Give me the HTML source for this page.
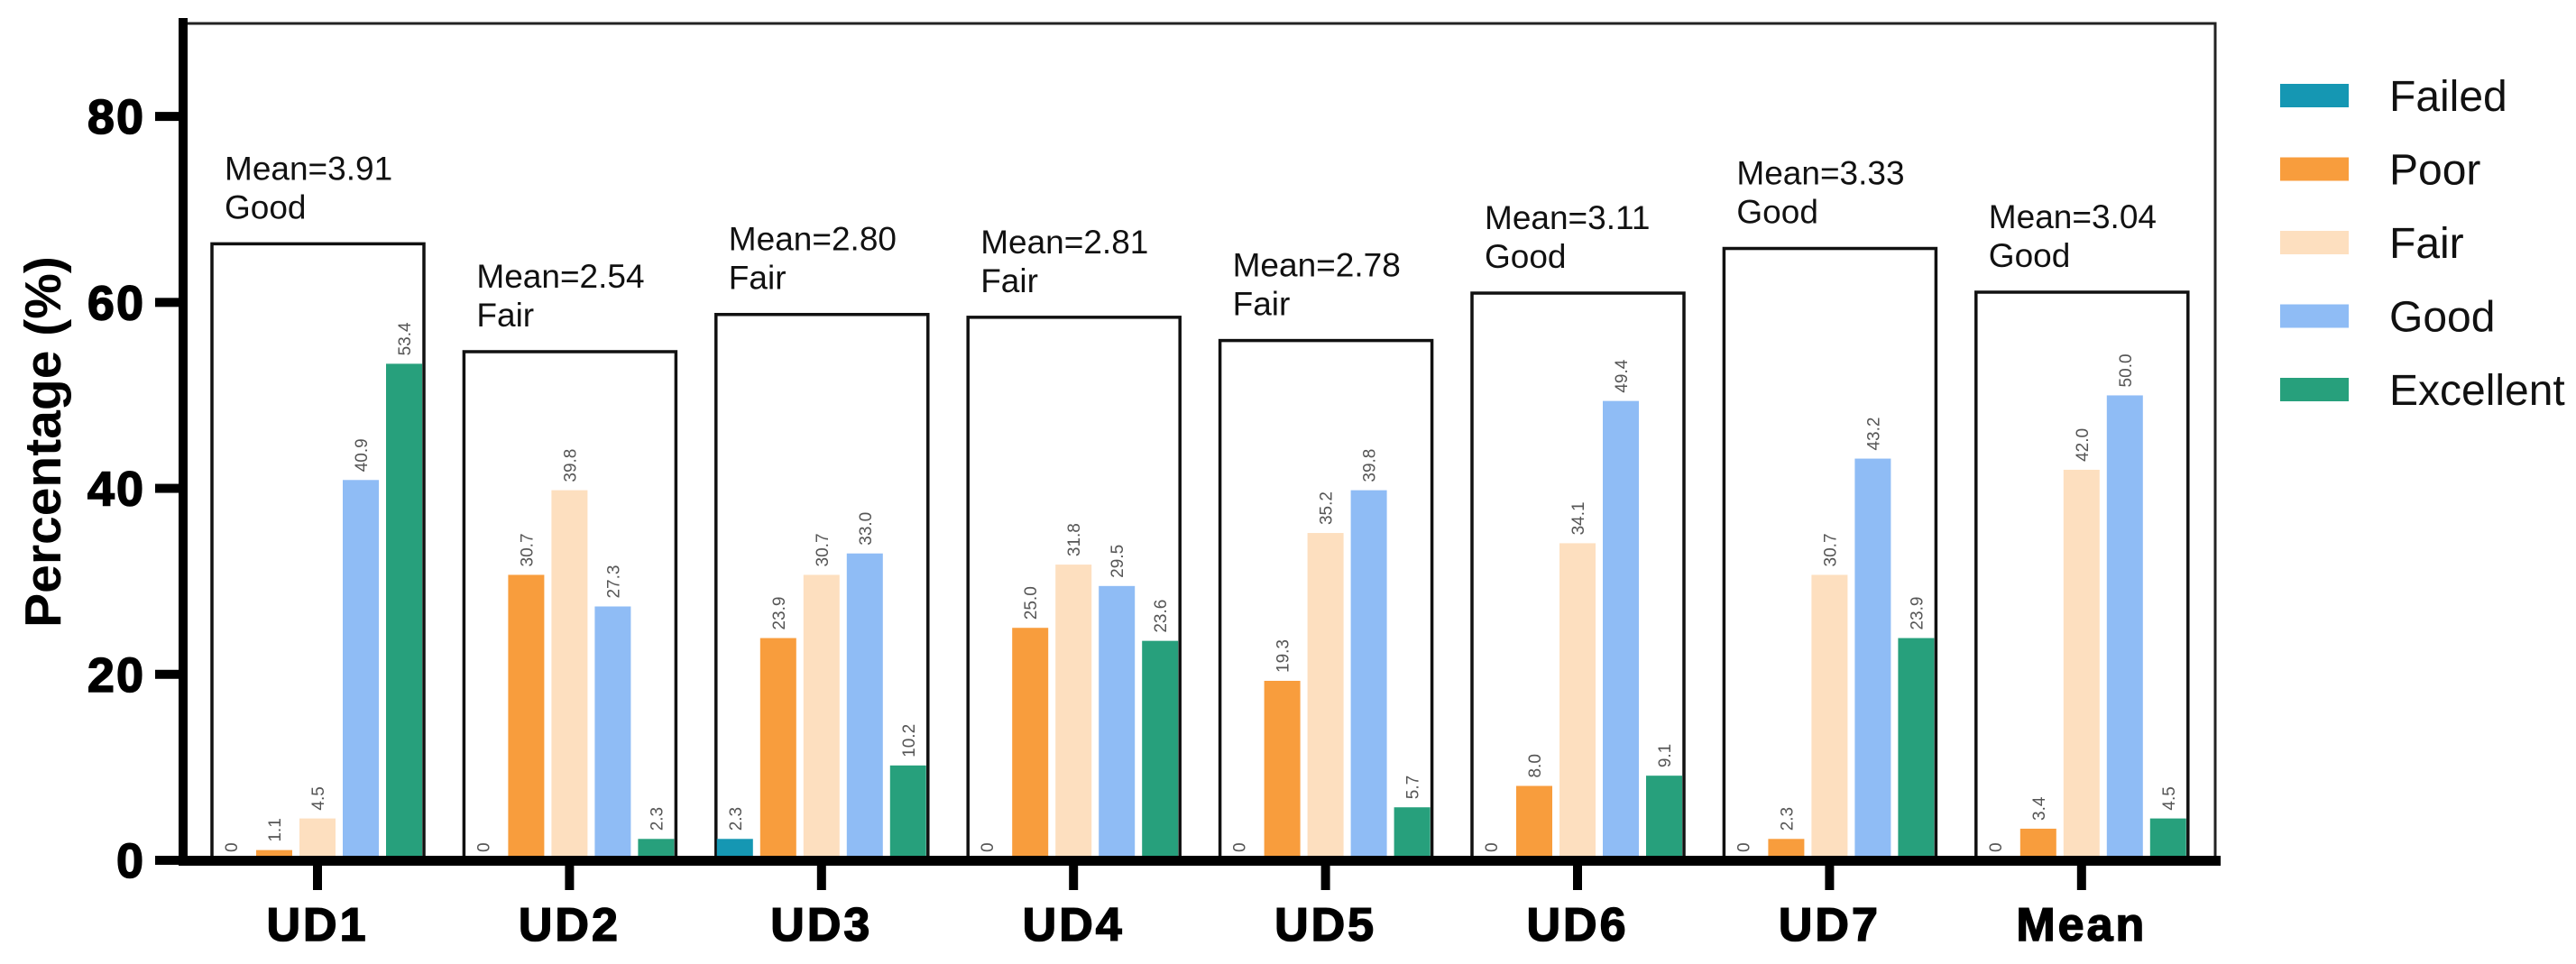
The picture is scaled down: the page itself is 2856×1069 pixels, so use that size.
<!DOCTYPE html>
<html><head><meta charset="utf-8"><style>html,body{margin:0;padding:0;background:#fff}svg{display:block}</style></head>
<body>
<svg id="chart" width="2856" height="1069" viewBox="0 0 2856 1069" xmlns="http://www.w3.org/2000/svg" font-family="Liberation Sans, Arial, sans-serif"></svg>
<script>
const categories = ["UD1","UD2","UD3","UD4","UD5","UD6","UD7","Mean"];
const seriesNames = ["Failed","Poor","Fair","Good","Excellent"];
const failed = [0,0,2.3,0,0,0,0,0];
const poor = [1.1,30.7,23.9,25.0,19.3,8.0,2.3,3.4];
const fair = [4.5,39.8,30.7,31.8,35.2,34.1,30.7,42.0];
const good = [40.9,27.3,33.0,29.5,39.8,49.4,43.2,50.0];
const excellent = [53.4,2.3,10.2,23.6,5.7,9.1,23.9,4.5];
const boxTops = [66.3,54.7,58.7,58.4,55.9,61.0,65.8,61.1];
const meanScores = ["3.91","2.54","2.80","2.81","2.78","3.11","3.33","3.04"];
const meanRatings = ["Good","Fair","Fair","Fair","Fair","Good","Good","Good"];
const yTicks = [0,20,40,60,80];
const yMax = 90;

const colors = ["#1597b3","#f89d3d","#fddfbf","#8fbcf5","#27a07c"];
const series = [failed,poor,fair,good,excellent];
const svg = document.getElementById('chart');
const NS = "http://www.w3.org/2000/svg";
const Y0 = 954, YTOP = 26, X0 = 203, XEND = 2456;
function y(v){ return Y0 - (Y0 - YTOP) * v / yMax; }
function cx(i){ return 352 + 279.4 * i; }
function mk(tag, attrs, parent){ const e = document.createElementNS(NS, tag); for (const k in attrs) e.setAttribute(k, attrs[k]); (parent||svg).appendChild(e); return e; }

let f = mk('path', {d:`M${X0} ${YTOP} H${XEND} V${Y0}`, fill:'none', stroke:'#222', 'stroke-width':3});



categories.forEach((c, i) => {
  const g = mk('g', {});
  
  
  const bl = cx(i) - 117, br = cx(i) + 118;
  const box = mk('rect', {x:bl, y:y(boxTops[i]), width:br-bl, height:Y0-y(boxTops[i]), fill:'none', stroke:'#111', 'stroke-width':3.5}, g);
  
  
  const t1 = mk('text', {x:bl+14, y:y(boxTops[i])-71, 'font-size':37, fill:'#111'}, g);
  t1.textContent = 'Mean=' + meanScores[i];
  
  
  const t2 = mk('text', {x:bl+14, y:y(boxTops[i])-28, 'font-size':37, fill:'#111'}, g);
  t2.textContent = meanRatings[i];
  
  
  series.forEach((s, j) => {
    const v = s[i];
    const bx = cx(i) + (j - 2) * 48 - 20;
    if (v > 0) {
      const r = mk('rect', {x:bx, y:y(v), width:40, height:Y0 - y(v), fill:colors[j]}, g);
      
      
    }
    const lt = mk('text', {transform:`translate(${bx+27},${y(v)-9}) rotate(-90)`, 'font-size':19, fill:'#555'}, g);
    lt.textContent = v === 0 ? '0' : v.toFixed(1);
    
    
  });
  const tk = mk('rect', {x:cx(i)-5, y:Y0, width:10, height:33, fill:'#000'});
  
  
  const xl = mk('text', {x:cx(i), y:1043, 'font-size':52, 'font-weight':'bold', 'text-anchor':'middle', 'letter-spacing':3, stroke:'#000', 'stroke-width':1.5, fill:'#000'});
  xl.textContent = c;
  
  
});

const ya = mk('rect', {x:X0-5, y:YTOP-6, width:10, height:Y0-YTOP+11, fill:'#000'});


const xa = mk('rect', {x:X0-5, y:Y0-5, width:2462-X0+5, height:11, fill:'#000'});


yTicks.forEach(t => {
  const tm = mk('rect', {x:172, y:y(t)-5, width:31, height:10, fill:'#000'});
  
  
  const tl = mk('text', {x:161, y:y(t)+19, 'font-size':54, 'font-weight':'bold', 'text-anchor':'end', 'letter-spacing':2, stroke:'#000', 'stroke-width':1.5, fill:'#000'});
  tl.textContent = t;
  
  
});
const yt = mk('text', {transform:'translate(67,490) rotate(-90)', 'font-size':57, 'font-weight':'bold', 'text-anchor':'middle', fill:'#000'});
yt.textContent = 'Percentage (%)';



seriesNames.forEach((n, j) => {
  const cy = 106 + 81.5 * j;
  const g = mk('g', {});
  
  
  mk('rect', {x:2528, y:cy-13, width:76, height:26, fill:colors[j]}, g);
  const lt = mk('text', {x:2649, y:cy+17, 'font-size':48, fill:'#111'}, g);
  lt.textContent = n;
});
</script>
</body></html>
